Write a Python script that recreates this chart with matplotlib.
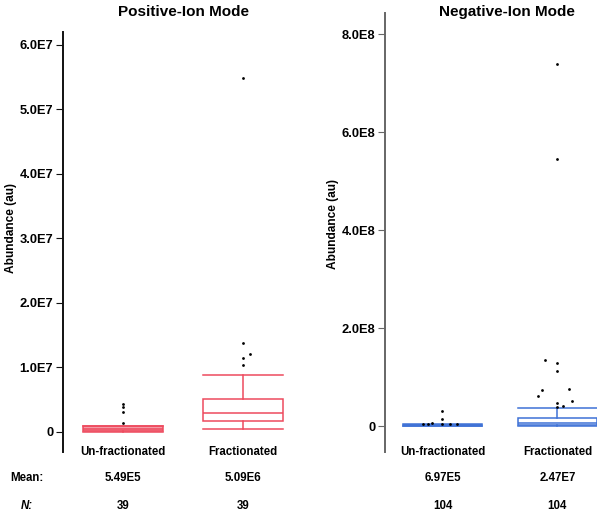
import matplotlib
matplotlib.use("Agg")
import matplotlib.pyplot as plt
from matplotlib.ticker import FixedLocator

plt.rcParams['font.family'] = ['Liberation Sans', 'DejaVu Sans']
plt.rcParams['font.weight'] = 'bold'

categories = ["Un-fractionated", "Fractionated"]

# Positive-ion mode box statistics (abundance, au)
pos_q1 = [1.5e5, 1.7e6]
pos_med = [4.0e5, 2.9e6]
pos_q3 = [9.0e5, 5.1e6]
pos_whislo = [0.5e5, 0.5e6]
pos_whishi = [1.0e6, 8.8e6]
pos_fliers_unfrac = [4.3e6, 3.9e6, 3.1e6, 1.4e6]
pos_fliers_frac = [5.49e7, 1.38e7, 1.21e7, 1.15e7, 1.04e7]
pos_fliers_frac_jitter = [0.0, 0.0, 0.06, 0.0, 0.0]
pos_mean = ["5.49E5", "5.09E6"]
pos_n = ["39", "39"]
pos_ticks = [0, 1e7, 2e7, 3e7, 4e7, 5e7, 6e7]
pos_ticklabels = ["0", "1.0E7", "2.0E7", "3.0E7", "4.0E7", "5.0E7", "6.0E7"]

# Negative-ion mode box statistics
neg_q1 = [1.0e6, 2.0e6]
neg_med = [2.0e6, 6.0e6]
neg_q3 = [3.0e6, 1.6e7]
neg_whislo = [0.5e6, 0.3e6]
neg_whishi = [4.0e6, 3.7e7]
neg_fliers_unfrac = [5e6, 5e6, 6e6, 5e6, 5e6, 5e6, 3.1e7, 1.4e7]
neg_fliers_unfrac_jitter = [-0.165, -0.13, -0.087, 0.0, 0.07, 0.13, 0.0, 0.0]
neg_fliers_frac = [7.39e8, 5.45e8, 1.35e8, 1.29e8, 1.12e8, 0.73e8, 0.61e8,
                   0.75e8, 0.47e8, 0.39e8, 0.41e8, 0.51e8]
neg_fliers_frac_jitter = [0.0, 0.0, -0.11, 0.0, 0.0, -0.13, -0.17,
                          0.10, 0.0, 0.0, 0.05, 0.13]
neg_mean = ["6.97E5", "2.47E7"]
neg_n = ["104", "104"]
neg_ticks = [0, 2e8, 4e8, 6e8, 8e8]
neg_ticklabels = ["0", "2.0E8", "4.0E8", "6.0E8", "8.0E8"]

RED = "#EE4A5E"
RED_FILL = "#F59AA6"
BLUE = "#3F72D6"
BLUE_FILL = "#9DB8EC"

W, H = 601, 515
fig = plt.figure(figsize=(W / 100, H / 100), dpi=100)


def panel(rect, q1, med, q3, wlo, whi, fl_u, fl_u_j, fl_f, fl_f_j, ticks,
          ticklabels, ylim, xlim, width, color, fill, spine_color, mean, n,
          title, title_x, ylabel_xy):
    ax = fig.add_axes(rect)
    stats = []
    for i in range(2):
        stats.append(dict(q1=q1[i], med=med[i], q3=q3[i], whislo=wlo[i],
                          whishi=whi[i], fliers=[], label=categories[i]))
    bp = ax.bxp(stats, positions=[1, 2], widths=width, capwidths=width,
                showfliers=False, patch_artist=True,
                boxprops=dict(edgecolor=color, facecolor="white", linewidth=1.1),
                medianprops=dict(color=color, linewidth=1.1),
                whiskerprops=dict(color=color, linewidth=1.1),
                capprops=dict(color=color, linewidth=1.1))
    bp["boxes"][0].set_facecolor(fill)
    ax.scatter([1 + j for j in fl_u_j], fl_u, s=4, color="black", zorder=3,
               linewidths=0)
    ax.scatter([2 + j for j in fl_f_j], fl_f, s=4, color="black", zorder=3,
               linewidths=0)
    ax.set_ylim(*ylim)
    ax.set_xlim(*xlim)
    for s in ["top", "right", "bottom"]:
        ax.spines[s].set_visible(False)
    ax.spines["left"].set_color(spine_color)
    ax.spines["left"].set_linewidth(1.4)
    ax.yaxis.set_major_locator(FixedLocator(ticks))
    ax.set_yticklabels(ticklabels, fontsize=9.3, fontweight="bold")
    ax.tick_params(axis="y", length=5, width=0.8, color=spine_color, pad=2)
    ax.set_xticks([])
    ax.set_ylabel("Abundance (au)", fontsize=8.6, fontweight="bold")
    ax.yaxis.set_label_coords(*ylabel_xy)
    for i in range(2):
        ax.annotate(categories[i], xy=(i + 1, 0), xycoords=("data", "axes fraction"),
                    ha="center", va="center", fontsize=8.3, fontweight="bold")
        ax.annotate(mean[i], xy=(i + 1, 0), xycoords=("data", "axes fraction"),
                    xytext=(0, -18.7), textcoords="offset points",
                    ha="center", va="center", fontsize=8.3, fontweight="bold")
        ax.annotate(n[i], xy=(i + 1, 0), xycoords=("data", "axes fraction"),
                    xytext=(0, -38.9), textcoords="offset points",
                    ha="center", va="center", fontsize=8.3, fontweight="bold")
    ax.text(title_x, 1 - 12 / H, title, transform=fig.transFigure,
            ha="center", va="center", fontsize=11, fontweight="bold")
    return ax


panel([63 / W, 63 / H, 240 / W, 420 / H], pos_q1, pos_med, pos_q3, pos_whislo,
      pos_whishi, pos_fliers_unfrac, [0.0] * len(pos_fliers_unfrac),
      pos_fliers_frac, pos_fliers_frac_jitter, pos_ticks, pos_ticklabels,
      (-0.31e7, 6.2e7), (0.5, 2.5), 0.667, RED, RED_FILL, "#111111",
      pos_mean, pos_n, "Positive-Ion Mode", 183 / W, (-0.19, 0.533))

panel([385 / W, 63 / H, 212 / W, 439 / H], neg_q1, neg_med, neg_q3, neg_whislo,
      neg_whishi, neg_fliers_unfrac, neg_fliers_unfrac_jitter,
      neg_fliers_frac, neg_fliers_frac_jitter, neg_ticks, neg_ticklabels,
      (-0.53e8, 8.43e8), (0.5, 2.345), 0.69, BLUE, BLUE_FILL, "#666666",
      neg_mean, neg_n, "Negative-Ion Mode", 507 / W, (-0.217, 0.52))

fig.text(27 / W, 1 - 478 / H, "Mean:", ha="center", va="center",
         fontsize=8.3, fontweight="bold")
fig.text(27 / W, 1 - 506 / H, "N:", ha="center", va="center",
         fontsize=8.3, fontweight="bold", fontstyle="italic")

fig.savefig("out.png", dpi=100)
